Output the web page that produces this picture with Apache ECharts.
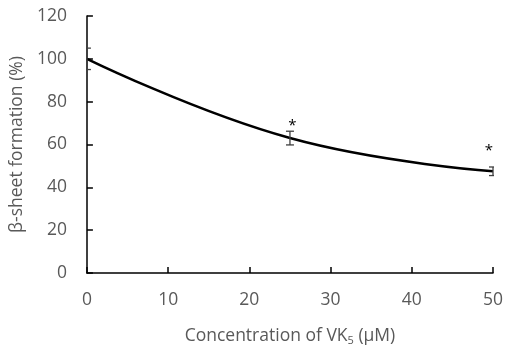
<!DOCTYPE html>
<html><head><meta charset="utf-8">
<script src="https://cdn.jsdelivr.net/npm/echarts@6/dist/echarts.min.js"></script>
<style>html,body{margin:0;padding:0;background:#fff}#c{width:507px;height:351px}</style>
</head><body><div id="c"></div>
<script>
var concentrations = [0, 25, 50];
var betaSheet = [100, 63, 47.5];
var errors = [5, 3.2, 2];
var starConcentrations = [25.3, 49.5];
var starLevels = [70.5, 58.8];
var yTicks = [0, 20, 40, 60, 80, 100, 120];
var xTicks = [0, 10, 20, 30, 40, 50];

var FONT = 'Open Sans';
var GRAY = '#595959';
var chart = echarts.init(document.getElementById('c'));
var errData = concentrations.map(function (x, i) { return [x, betaSheet[i], errors[i]]; });
chart.setOption({
  animation: false,
  grid: { left: 86, right: 14, top: 16, bottom: 77 },
  xAxis: {
    type: 'value', min: 0, max: 50, interval: 10,
    name: '{a|Concentration of VK}{b|5}{a| (μM)}',
    nameLocation: 'middle', nameGap: 54,
    nameTextStyle: { rich: { a: { fontFamily: FONT, fontSize: 17.5, color: GRAY }, b: { fontFamily: FONT, fontSize: 11, color: GRAY, padding: [8, 0, 0, 0] } } },
    axisLine: { lineStyle: { color: '#000', width: 1.5 } },
    axisTick: { inside: true, length: 6, lineStyle: { color: '#000', width: 1.5 } },
    axisLabel: { fontFamily: FONT, fontSize: 17.5, color: GRAY, margin: 18 },
    splitLine: { show: false }
  },
  yAxis: {
    type: 'value', min: 0, max: 120, interval: 20,
    name: 'β-sheet formation (%)', nameLocation: 'middle', nameGap: 57,
    nameTextStyle: { fontFamily: FONT, fontSize: 17.5, color: GRAY },
    axisLine: { show: true, lineStyle: { color: '#000', width: 1.5 } },
    axisTick: { show: true, inside: true, length: 6, lineStyle: { color: '#000', width: 1.5 } },
    axisLabel: { fontFamily: FONT, fontSize: 17.5, color: GRAY, margin: 20 },
    splitLine: { show: false }
  },
  series: [
    {
      type: 'line', smooth: 0.45, symbol: 'none',
      data: concentrations.map(function (x, i) { return [x, betaSheet[i]]; }),
      lineStyle: { color: '#000', width: 2.5 }, z: 3
    },
    {
      type: 'custom', data: errData, clip: true, z: 4,
      renderItem: function (params, api) {
        var x = api.value(0), y = api.value(1), e = api.value(2);
        var top = api.coord([x, y + e]), bot = api.coord([x, y - e]);
        var w = 4;
        var st = { stroke: '#404040', lineWidth: 1.3 };
        return { type: 'group', children: [
          { type: 'line', shape: { x1: top[0], y1: top[1], x2: bot[0], y2: bot[1] }, style: st },
          { type: 'line', shape: { x1: top[0] - w, y1: top[1], x2: top[0] + w, y2: top[1] }, style: st },
          { type: 'line', shape: { x1: bot[0] - w, y1: bot[1], x2: bot[0] + w, y2: bot[1] }, style: st }
        ] };
      }
    },
    {
      type: 'custom', z: 5, clip: false,
      data: starConcentrations.map(function (x, i) { return [x, starLevels[i]]; }),
      renderItem: function (params, api) {
        var p = api.coord([api.value(0), api.value(1)]);
        return { type: 'text', x: p[0], y: p[1] + 4, style: { text: '*', fontFamily: FONT, fontSize: 15, fill: '#000', align: 'center', verticalAlign: 'middle' } };
      }
    }
  ]
});
</script></body></html>
